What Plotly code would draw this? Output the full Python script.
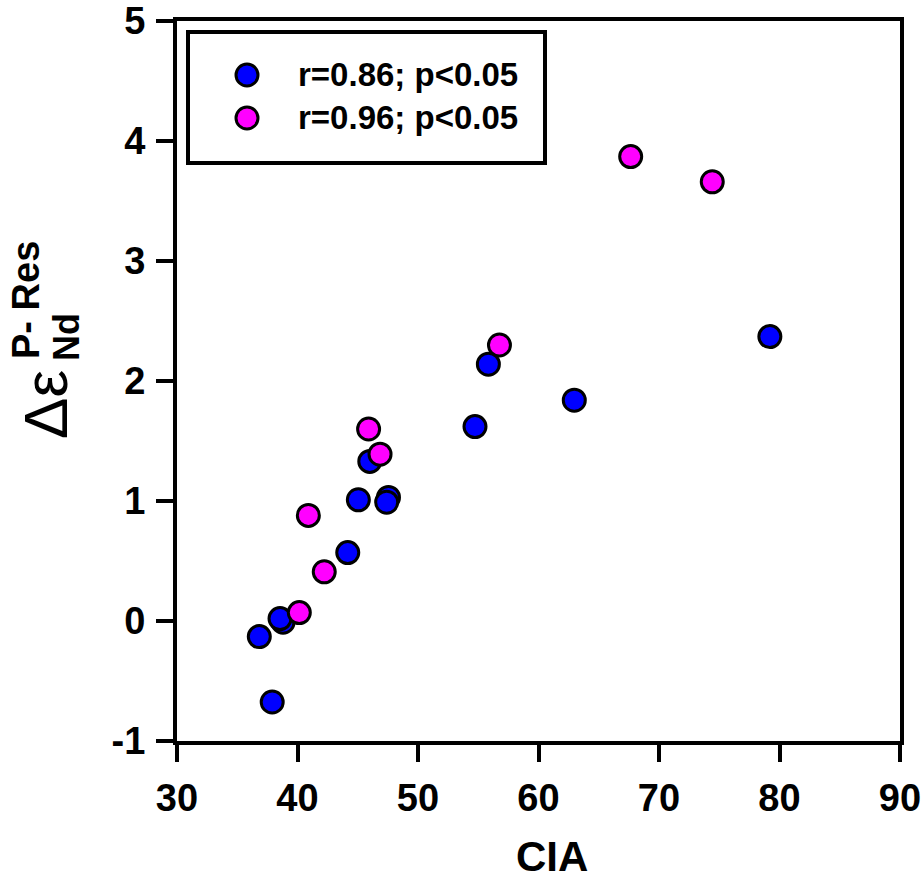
import plotly.graph_objects as go

# CIA (chemical index of alteration) vs. Nd isotope offset between
# particulate and residual fractions, two groups of samples.
cia_blue = [79.2, 62.97, 55.84, 54.73, 47.55, 47.4, 45.05, 46.0, 44.17, 38.8, 38.55, 36.83, 37.9]
dnd_blue = [2.37, 1.84, 2.14, 1.62, 1.03, 0.99, 1.01, 1.33, 0.57, -0.01, 0.02, -0.13, -0.675]

cia_mag = [67.65, 74.42, 56.76, 46.85, 45.9, 40.9, 42.22, 40.15]
dnd_mag = [3.87, 3.66, 2.30, 1.39, 1.60, 0.88, 0.41, 0.07]

series_names = ["r=0.86; p<0.05", "r=0.96; p<0.05"]
series_colors = ["#0000ff", "#ff00ff"]

x_ticks = [30, 40, 50, 60, 70, 80, 90]
x_ticktext = ["30", "40", "50", "60", "70", "80", "90"]
y_ticks = [-1, 0, 1, 2, 3, 4, 5]
y_ticktext = ["-1", "0", "1", "2", "3", "4", "5"]

FONT = "Liberation Sans, Arial, sans-serif"

W, H = 922, 879
ML, MR, MT, MB = 177, 22, 21, 138
PW = W - ML - MR
PH = H - MT - MB

fig = go.Figure()

marker_common = dict(size=22, line=dict(color="black", width=3))

for xs, ys, name, col in [(cia_blue, dnd_blue, series_names[0], series_colors[0]),
                          (cia_mag, dnd_mag, series_names[1], series_colors[1])]:
    fig.add_trace(go.Scatter(
        x=xs, y=ys, mode="markers", name=name,
        marker=dict(color=col, **marker_common),
        showlegend=False,
    ))

axis_common = dict(
    showgrid=False, zeroline=False, automargin=False,
    showline=True, linecolor="black", linewidth=4, mirror=True,
    ticks="outside", ticklen=17, tickwidth=4, tickcolor="black",
    tickfont=dict(family=FONT, size=38, color="black", weight="bold"),
)

fig.update_xaxes(range=[30, 90], tickmode="array", tickvals=x_ticks,
                 ticktext=x_ticktext, ticklabelstandoff=3, **axis_common)
fig.update_yaxes(range=[-1, 5], tickmode="array", tickvals=y_ticks,
                 ticktext=y_ticktext, ticklabelstandoff=3, **axis_common)


def px_x(px):
    return (px - ML) / PW


def px_y(py):
    return (H - MB - py) / PH


# legend frame
fig.add_shape(type="rect", xref="paper", yref="paper",
              x0=px_x(188), x1=px_x(545), y0=px_y(163), y1=px_y(32),
              line=dict(color="black", width=4), fillcolor="white", layer="above")

# legend entries: symbol + label
legend_rows = [75, 118]
for row_y, name, col in zip(legend_rows, series_names, series_colors):
    fig.add_shape(type="circle", xref="paper", yref="paper",
                  xsizemode="pixel", ysizemode="pixel",
                  xanchor=px_x(247), yanchor=px_y(row_y),
                  x0=-11, x1=11, y0=-11, y1=11,
                  line=dict(color="black", width=3), fillcolor=col, layer="above")
    fig.add_annotation(text=name, xref="paper", yref="paper",
                       x=px_x(296), y=px_y(row_y), showarrow=False,
                       xanchor="left", yanchor="middle",
                       font=dict(family=FONT, size=33, color="black", weight="bold"))

# x-axis title
fig.add_annotation(text="CIA", xref="paper", yref="paper",
                   x=px_x(552), y=px_y(856), showarrow=False,
                   xanchor="center", yanchor="middle",
                   font=dict(family=FONT, size=42, color="black", weight="bold"))

# y-axis title: Δε with stacked superscript / subscript
fig.add_annotation(text="Δε", xref="paper", yref="paper",
                   x=px_x(45), y=px_y(405), showarrow=False, textangle=-90,
                   xanchor="center", yanchor="middle",
                   font=dict(family=FONT, size=62, color="black"))
fig.add_annotation(text="Nd", xref="paper", yref="paper",
                   x=px_x(66), y=px_y(337), showarrow=False, textangle=-90,
                   xanchor="center", yanchor="middle",
                   font=dict(family=FONT, size=36, color="black", weight="bold"))
fig.add_annotation(text="P- Res", xref="paper", yref="paper",
                   x=px_x(26), y=px_y(300), showarrow=False, textangle=-90,
                   xanchor="center", yanchor="middle",
                   font=dict(family=FONT, size=38, color="black", weight="bold"))

fig.update_layout(
    width=W, height=H, autosize=False,
    margin=dict(l=ML, r=MR, t=MT, b=MB, pad=0),
    paper_bgcolor="white", plot_bgcolor="white",
    showlegend=False,
)

fig.write_html("out.html")
